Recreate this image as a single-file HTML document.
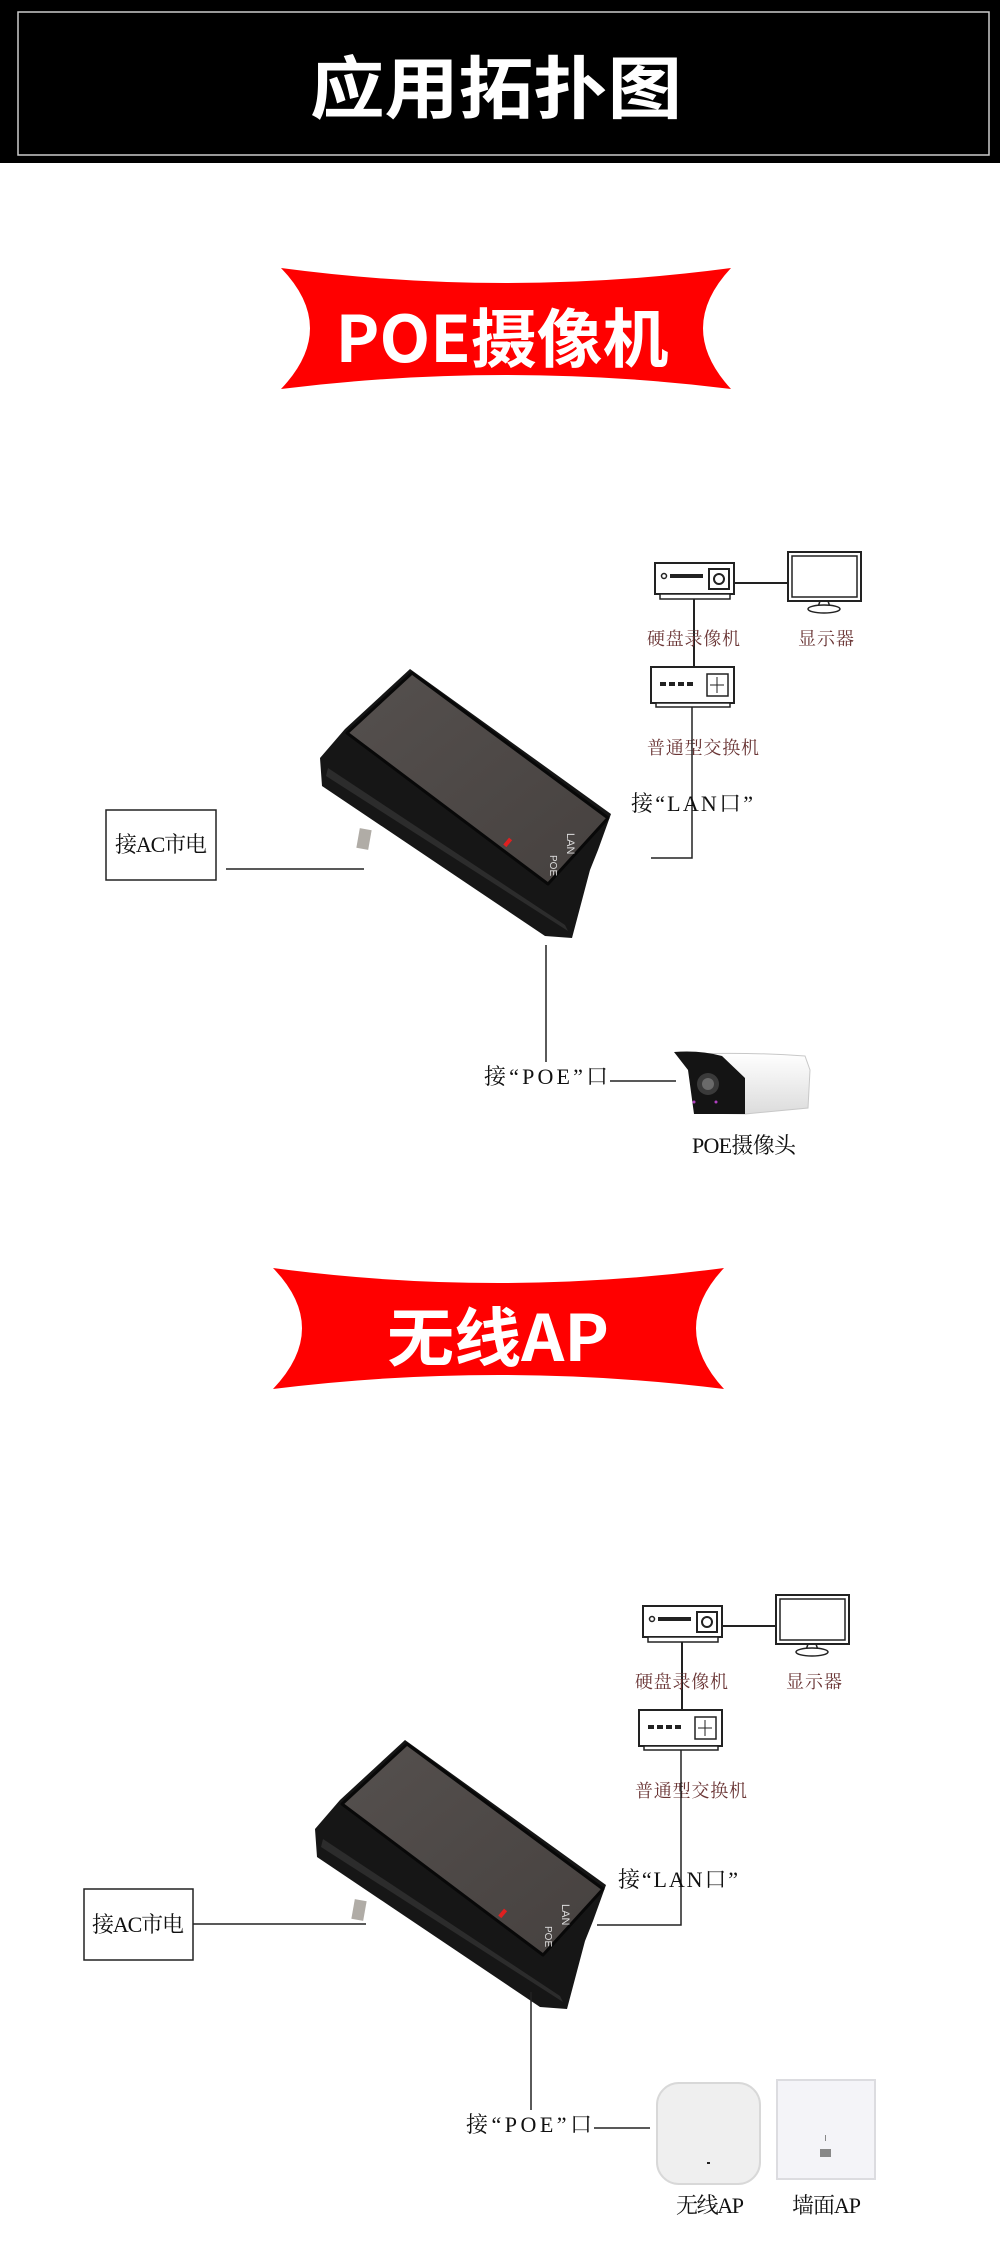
<!DOCTYPE html>
<html><head><meta charset="utf-8"><style>
html,body{margin:0;padding:0;background:#fff}
svg{display:block}
.t{font-family:"Liberation Serif","Noto Serif CJK SC",serif;font-size:22px;fill:#111}
.m{font-family:"Liberation Serif","Noto Serif CJK SC",serif;font-size:18px;fill:#6a3535}
</style></head><body>
<svg width="1000" height="2253" viewBox="0 0 1000 2253" xmlns="http://www.w3.org/2000/svg">
<defs>
<linearGradient id="top" x1="0" y1="0" x2="1" y2="1">
<stop offset="0" stop-color="#55504e"/><stop offset="1" stop-color="#46413f"/></linearGradient>
<linearGradient id="cam" x1="0" y1="0" x2="0" y2="1">
<stop offset="0" stop-color="#ffffff"/><stop offset="1" stop-color="#dcdcdc"/></linearGradient>
<g id="dev">
<polygon points="410,669 611,814 598,850 590,870 572,938 545,936 322,786 320,758 345,729" fill="#161616"/>
<polygon points="328,768 565,925 568,931 326,776" fill="#2c2c2c"/>
<polygon points="412,673 608,818 548,884 347,733" fill="url(#top)" stroke="#080808" stroke-width="3" stroke-linejoin="round"/>
<rect x="358" y="829" width="12" height="20" fill="#b0aca6" transform="rotate(10 364 839)"/>
<rect x="506" y="838" width="4" height="9" fill="#e02020" transform="rotate(40 508 842)"/>
<text x="0" y="0" font-family="Liberation Sans,sans-serif" font-size="11" fill="#ddd" transform="translate(567,833) rotate(90)">LAN</text>
<text x="0" y="0" font-family="Liberation Sans,sans-serif" font-size="10" fill="#ddd" transform="translate(550,855) rotate(90)">POE</text>
</g>
<g id="top2">
<rect x="655" y="563" width="79" height="31" fill="#fff" stroke="#222" stroke-width="2"/>
<rect x="660" y="594" width="70" height="5" fill="#fff" stroke="#222" stroke-width="1.5"/>
<circle cx="664" cy="576" r="2.5" fill="none" stroke="#222" stroke-width="1.5"/>
<rect x="670" y="574" width="33" height="4" fill="#222"/>
<rect x="709" y="569" width="20" height="20" fill="#fff" stroke="#222" stroke-width="2"/>
<circle cx="719" cy="579" r="5" fill="none" stroke="#222" stroke-width="2"/>
<line x1="734" y1="583" x2="788" y2="583" stroke="#222" stroke-width="2"/>
<rect x="788" y="552" width="73" height="49" fill="#fff" stroke="#222" stroke-width="2"/>
<rect x="792" y="556" width="65" height="41" fill="#fff" stroke="#222" stroke-width="1.5"/>
<path d="M820 601 L818 607 M828 601 L830 607" stroke="#222" stroke-width="1.5"/>
<ellipse cx="824" cy="609" rx="16" ry="4" fill="#fff" stroke="#222" stroke-width="1.5"/>
<line x1="694" y1="599" x2="694" y2="667" stroke="#222" stroke-width="2"/>
<text class="m" x="647" y="645" textLength="93">硬盘录像机</text>
<text class="m" x="798" y="645" textLength="56">显示器</text>
<rect x="651" y="667" width="83" height="36" fill="#fff" stroke="#222" stroke-width="2"/>
<rect x="656" y="703" width="74" height="4" fill="#fff" stroke="#222" stroke-width="1.5"/>
<g fill="#222"><rect x="660" y="682" width="6" height="4"/><rect x="669" y="682" width="6" height="4"/><rect x="678" y="682" width="6" height="4"/><rect x="687" y="682" width="6" height="4"/></g>
<rect x="707" y="674" width="21" height="22" fill="#fff" stroke="#222" stroke-width="1.5"/>
<path d="M717 677 v16 M710 685 h14" stroke="#222" stroke-width="1"/>
<text class="m" x="647" y="754" textLength="112">普通型交换机</text>
</g>
</defs>

<rect x="0" y="0" width="1000" height="163" fill="#000"/>
<rect x="18" y="12" width="971" height="143" fill="none" stroke="#ccc" stroke-width="1.5"/>
<text x="496" y="113" text-anchor="middle" font-family="Noto Sans CJK SC,sans-serif" font-weight="bold" font-size="68" fill="#fff" textLength="372" lengthAdjust="spacingAndGlyphs">应用拓扑图</text>

<path d="M281,268 Q506,298 731,268 Q675,328 731,389 Q506,361 281,389 Q339,328 281,268 Z" fill="#ff0000"/>
<text x="502" y="362" text-anchor="middle" font-family="Noto Sans CJK SC,sans-serif" font-weight="bold" font-size="64" fill="#fff" textLength="333" lengthAdjust="spacingAndGlyphs">POE摄像机</text>

<use href="#top2"/>
<use href="#dev"/>
<rect x="106" y="810" width="110" height="70" fill="#fff" stroke="#222" stroke-width="1.5"/>
<text class="t" x="115" y="852" textLength="92">接AC市电</text>
<line x1="226" y1="869" x2="364" y2="869" stroke="#222" stroke-width="1.5"/>
<polyline points="692,707 692,858 651,858" fill="none" stroke="#222" stroke-width="1.5"/>
<text class="t" x="631" y="811" textLength="122">接“LAN口”</text>
<line x1="546" y1="945" x2="546" y2="1062" stroke="#222" stroke-width="1.5"/>
<text class="t" x="484" y="1084" textLength="124">接“POE”口</text>
<line x1="610" y1="1081" x2="676" y2="1081" stroke="#222" stroke-width="1.5"/>
<path d="M690,1054 Q750,1052 805,1056 L810,1070 L808,1108 L745,1114 L700,1113 Z" fill="url(#cam)" stroke="#c8c8c8"/>
<path d="M674,1052 Q700,1050 722,1056 L745,1078 L745,1114 L694,1114 L688,1070 Z" fill="#141414"/>
<circle cx="708" cy="1084" r="11" fill="#3a3a3a"/><circle cx="708" cy="1084" r="6" fill="#6a6a6a"/>
<circle cx="694" cy="1102" r="1.5" fill="#b040c0"/><circle cx="716" cy="1102" r="1.5" fill="#b040c0"/>
<text class="t" x="692" y="1153" textLength="104">POE摄像头</text>

<path d="M273,1268 Q498,1298 724,1268 Q668,1328 724,1389 Q498,1361 273,1389 Q331,1328 273,1268 Z" fill="#ff0000"/>
<text x="498" y="1361" text-anchor="middle" font-family="Noto Sans CJK SC,sans-serif" font-weight="bold" font-size="64" fill="#fff" textLength="222" lengthAdjust="spacingAndGlyphs">无线AP</text>

<use href="#top2" transform="translate(-12,1043)"/>
<use href="#dev" transform="translate(-5,1071)"/>
<rect x="84" y="1889" width="109" height="71" fill="#fff" stroke="#222" stroke-width="1.5"/>
<text class="t" x="92" y="1932" textLength="92">接AC市电</text>
<line x1="193" y1="1924" x2="366" y2="1924" stroke="#222" stroke-width="1.5"/>
<polyline points="681,1750 681,1925 597,1925" fill="none" stroke="#222" stroke-width="1.5"/>
<text class="t" x="618" y="1887" textLength="120">接“LAN口”</text>
<line x1="531" y1="1992" x2="531" y2="2110" stroke="#222" stroke-width="1.5"/>
<text class="t" x="466" y="2132" textLength="126">接“POE”口</text>
<line x1="594" y1="2128" x2="650" y2="2128" stroke="#222" stroke-width="1.5"/>
<rect x="657" y="2083" width="103" height="101" rx="22" fill="#efefef" stroke="#d8d8d8" stroke-width="2"/>
<rect x="707" y="2162" width="3" height="2" fill="#222"/>
<rect x="777" y="2080" width="98" height="99" fill="#f4f4f8" stroke="#dcdce0" stroke-width="2"/>
<rect x="825" y="2135" width="1" height="6" fill="#888"/>
<rect x="820" y="2149" width="11" height="8" fill="#888"/>
<text class="t" x="676" y="2213" font-size="24" textLength="68">无线AP</text>
<text class="t" x="792" y="2213" font-size="24" textLength="69">墙面AP</text>
</svg>
</body></html>
